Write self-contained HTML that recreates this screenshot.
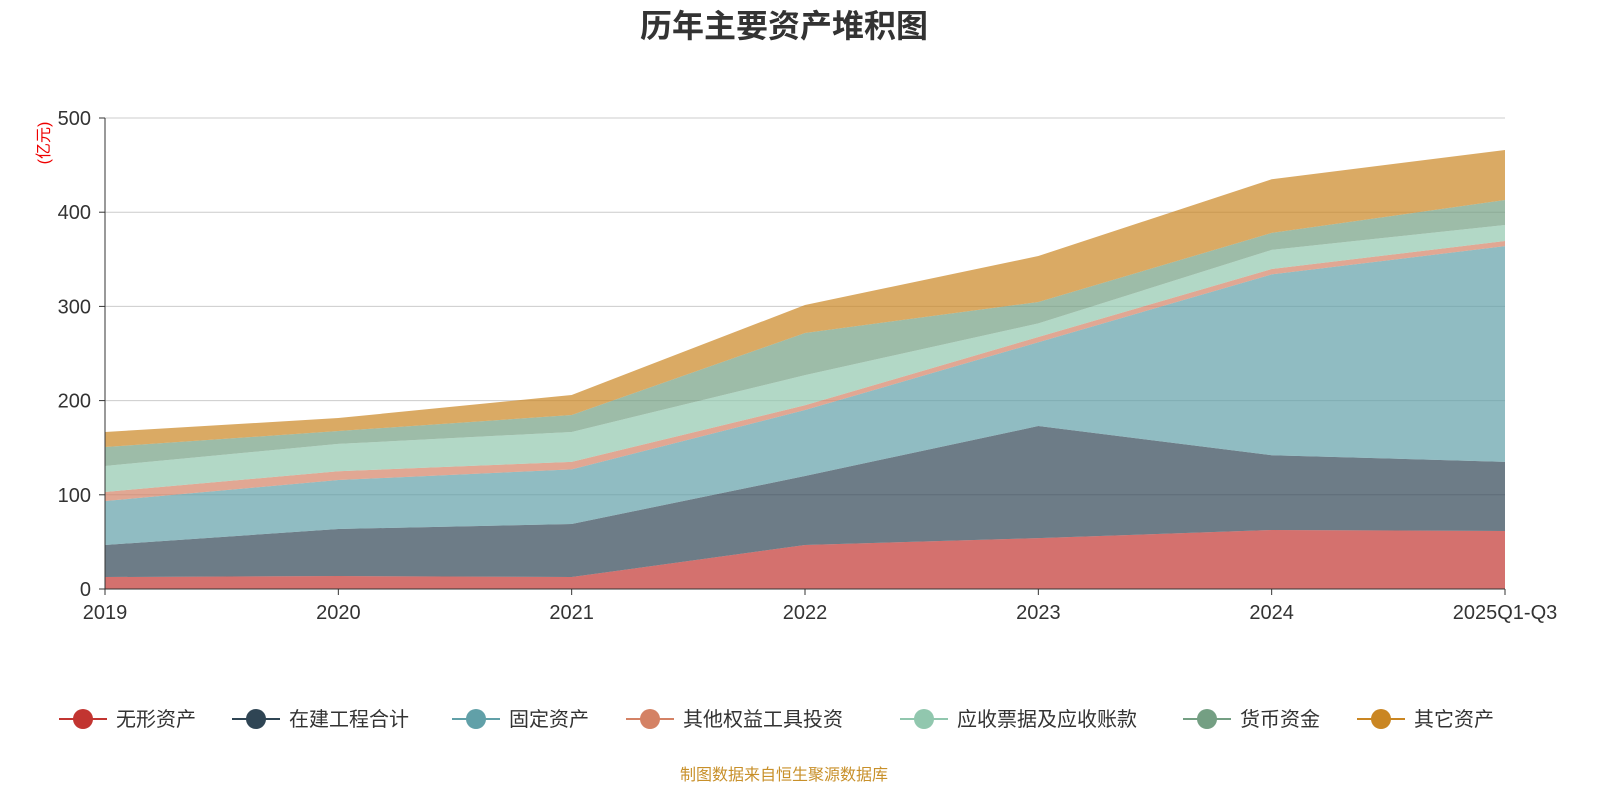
<!DOCTYPE html>
<html><head><meta charset="utf-8">
<style>
body{margin:0;background:#fff;width:1600px;height:800px;overflow:hidden;font-family:"Liberation Sans","Noto Sans CJK SC",sans-serif;}
</style></head>
<body>
<svg id="chart" width="1600" height="800" xmlns="http://www.w3.org/2000/svg" font-family="Liberation Sans, Noto Sans CJK SC, sans-serif">
<text x="784" y="37" text-anchor="middle" font-size="32" font-weight="bold" fill="#333">历年主要资产堆积图</text>
<text transform="translate(49,143) rotate(-90)" text-anchor="middle" font-size="16" fill="#e00">(亿元)</text>
<g id="grid"></g><g id="areas"></g><g id="axes"></g><g id="legend"></g>
<text x="784" y="780" text-anchor="middle" font-size="16" fill="#c8902a">制图数据来自恒生聚源数据库</text>
</svg>
<script>
const categories=["2019","2020","2021","2022","2023","2024","2025Q1-Q3"];
const seriesNames=["无形资产","在建工程合计","固定资产","其他权益工具投资","应收票据及应收账款","货币资金","其它资产"];
const s1=[12.7,13.8,12.7,46.7,54,62.6,61.6];
const s2=[34,49.9,56.3,73.3,119,79.4,73.4];
const s3=[46.7,52,58,70,89,192,229];
const s4=[9.6,9.3,8,5,5.5,5.7,5.4];
const s5=[27.6,29,31.7,32,14.5,20.3,17];
const s6=[20.1,13.7,18,44.8,22.7,18,26.6];
const s7=[16,13.8,21.3,29.7,48.8,57,53];
const yTicks=[0,100,200,300,400,500];
const series=[s1,s2,s3,s4,s5,s6,s7];
const colors=["#c23531","#2f4554","#61a0a8","#d48265","#91c7ae","#749f83","#ca8622"];
const NS="http://www.w3.org/2000/svg";
const X0=105,X1=1505,Y0=589,Y1=118,YMAX=500;
const xS=i=>X0+i*(X1-X0)/(categories.length-1);
const yS=v=>Y0-v/YMAX*(Y0-Y1);
function mk(tag,attrs,parent){const e=document.createElementNS(NS,tag);for(const k in attrs)e.setAttribute(k,attrs[k]);parent.appendChild(e);return e;}
const grid=document.getElementById('grid'),areas=document.getElementById('areas'),axes=document.getElementById('axes'),legend=document.getElementById('legend');
yTicks.forEach(t=>{
 if(t>0){const l=mk('line',{x1:X0,x2:X1,y1:yS(t),y2:yS(t),stroke:'#ccc','stroke-width':1},grid);
 
 }
 const tk=mk('line',{x1:X0-6,x2:X0,y1:yS(t),y2:yS(t),stroke:'#333'},axes);
 
 
 const tx=mk('text',{x:X0-14,y:yS(t)+7,'text-anchor':'end','font-size':20,fill:'#333'},axes);tx.textContent=t;
 
 
});
let base=categories.map(()=>0);
series.forEach((s,si)=>{
 const top=base.map((b,i)=>b+s[i]);
 let d='M'+top.map((v,i)=>xS(i)+','+yS(v)).join('L');
 for(let i=categories.length-1;i>=0;i--)d+='L'+xS(i)+','+yS(base[i]);
 d+='Z';
 const p=mk('path',{d:d,fill:colors[si],'fill-opacity':0.7},areas);
 
 
 base=top;
});
const ya=mk('line',{x1:X0,x2:X0,y1:Y1,y2:Y0,stroke:'#333'},axes);


const xa=mk('line',{x1:X0,x2:X1,y1:Y0,y2:Y0,stroke:'#333'},axes);


categories.forEach((c,i)=>{
 const tk=mk('line',{x1:xS(i),x2:xS(i),y1:Y0,y2:Y0+6,stroke:'#333'},axes);
 
 
 const tx=mk('text',{x:xS(i),y:Y0+30,'text-anchor':'middle','font-size':20,fill:'#333'},axes);tx.textContent=c;
 
 
});
const lx=[83,256,476,650,924,1207,1381];
seriesNames.forEach((n,i)=>{
 const g=mk('g',{},legend);
 
 
 mk('line',{x1:lx[i]-24,x2:lx[i]+24,y1:719,y2:719,stroke:colors[i],'stroke-width':2},g);
 mk('circle',{cx:lx[i],cy:719,r:10,fill:colors[i]},g);
 const t=mk('text',{x:lx[i]+33,y:726,'font-size':20,fill:'#333'},g);t.textContent=n;
});
</script>
</body></html>
